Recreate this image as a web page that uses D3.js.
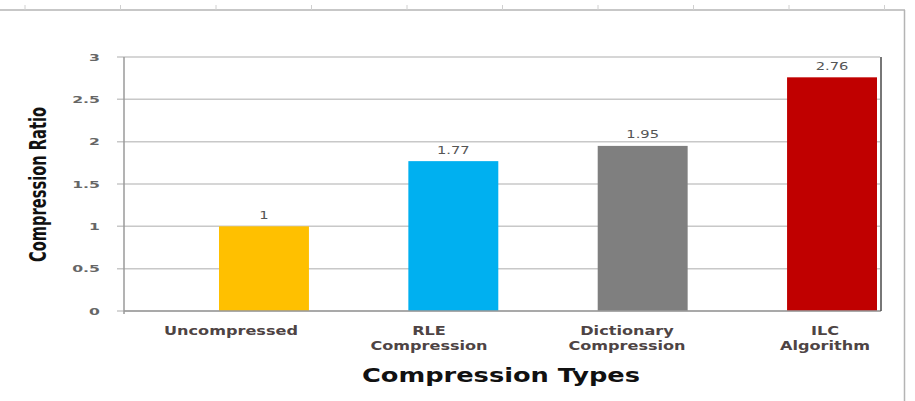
<!DOCTYPE html>
<html>
<head>
<meta charset="utf-8">
<script src="https://cdn.jsdelivr.net/npm/d3@7"></script>
<style>
  html, body { margin: 0; padding: 0; background: #fff; }
  svg { display: block; }
</style>
</head>
<body>
<svg id="chart" width="915" height="401"></svg>
<script>
// ---- data ----
const categories = ["Uncompressed", "RLE\nCompression", "Dictionary\nCompression", "ILC\nAlgorithm"];
const values = [1, 1.77, 1.95, 2.76];
const valueLabels = ["1", "1.77", "1.95", "2.76"];
const barColors = ["#FFC000", "#00B0F0", "#7F7F7F", "#C00000"];
const yTicks = [0, 0.5, 1, 1.5, 2, 2.5, 3];
const yTickLabels = ["0", "0.5", "1", "1.5", "2", "2.5", "3"];
const xTitle = "Compression Types";
const yTitle = "Compression Ratio";

const svg = d3.select("#chart");
const W = 915, H = 401;

// plot area
const plot = { left: 124, right: 880, top: 57, bottom: 311 };

const y = d3.scaleLinear().domain([0, 3]).range([plot.bottom, plot.top]);
const xBar = d3.scaleBand().domain(categories).range([219, 877]).paddingInner(0.525).paddingOuter(0);
const xLab = d3.scaleBand().domain(categories).range([132, 924]);

// outer spreadsheet frame
const frame = svg.append("g");
frame.append("line").attr("x1", 0).attr("x2", 905).attr("y1", 10).attr("y2", 10)
  .attr("stroke", "#b4b4b4").attr("stroke-width", 1.5);
frame.append("line").attr("x1", 904.5).attr("x2", 904.5).attr("y1", 10).attr("y2", H)
  .attr("stroke", "#b4b4b4").attr("stroke-width", 1.5);
const colScale = d3.scaleLinear().domain([0, 1]).range([25, 120.5]);
frame.selectAll("line.col").data(d3.range(10)).join("line")
  .attr("class", "col")
  .attr("x1", d => colScale(d)).attr("x2", d => colScale(d))
  .attr("y1", 5).attr("y2", 10)
  .attr("stroke", "#d0d0d0").attr("stroke-width", 1);

// gridlines
svg.append("g").selectAll("line").data(yTicks).join("line")
  .attr("x1", plot.left - 7).attr("x2", plot.right)
  .attr("y1", d => y(d)).attr("y2", d => y(d))
  .attr("stroke", "#c8c8c8").attr("stroke-width", 1.5);

// y axis
const yAxis = d3.axisLeft(y).tickValues(yTicks)
  .tickFormat((d, i) => yTickLabels[i]).tickSize(0).tickPadding(24);
const gy = svg.append("g").attr("transform", `translate(${plot.left},0)`).call(yAxis);
gy.select(".domain").remove();
gy.selectAll("text")
  .attr("font-family", "DejaVu Sans, Verdana, sans-serif")
  .attr("font-size", 9.5).attr("font-weight", "bold")
  .attr("fill", "#666666").attr("data-stretch", 1.65);

// bars
svg.append("g").selectAll("rect").data(values).join("rect")
  .attr("x", (d, i) => xBar(categories[i]))
  .attr("width", xBar.bandwidth())
  .attr("y", d => y(d))
  .attr("height", d => y(0) - y(d))
  .attr("fill", (d, i) => barColors[i]);

// axis lines
svg.append("line").attr("x1", plot.left).attr("x2", plot.left)
  .attr("y1", plot.top).attr("y2", plot.bottom + 3)
  .attr("stroke", "#9a9a9a").attr("stroke-width", 1.5);
svg.append("line").attr("x1", plot.left).attr("x2", plot.right + 1)
  .attr("y1", plot.bottom).attr("y2", plot.bottom)
  .attr("stroke", "#9a9a9a").attr("stroke-width", 1.5);
svg.append("line").attr("x1", plot.right + 1).attr("x2", plot.right + 1)
  .attr("y1", plot.top).attr("y2", plot.bottom)
  .attr("stroke", "#4a4a4a").attr("stroke-width", 1.5);

// value labels
svg.append("g").selectAll("text").data(values).join("text")
  .attr("x", (d, i) => xBar(categories[i]) + xBar.bandwidth() / 2)
  .attr("y", d => y(d) - 7.5)
  .attr("text-anchor", "middle")
  .attr("font-family", "DejaVu Sans, Verdana, sans-serif")
  .attr("font-size", 10.5)
  .attr("fill", "#555555")
  .attr("data-stretch", 1.4)
  .text((d, i) => valueLabels[i]);

// category labels
const catG = svg.append("g");
categories.forEach(c => {
  const lines = c.split("\n");
  const t = catG.append("g");
  lines.forEach((ln, j) => {
    t.append("text")
      .attr("x", xLab(c) + xLab.bandwidth() / 2)
      .attr("y", 335 + j * 14.5)
      .attr("text-anchor", "middle")
      .attr("font-family", "DejaVu Sans, Verdana, sans-serif")
      .attr("font-size", 11.5).attr("font-weight", "bold")
      .attr("fill", "#4e4444")
      .attr("data-stretch", 1.4)
      .text(ln);
  });
});

// axis titles
svg.append("text")
  .attr("x", 501).attr("y", 382)
  .attr("text-anchor", "middle")
  .attr("font-family", "DejaVu Sans, Verdana, sans-serif")
  .attr("font-size", 19).attr("font-weight", "bold")
  .attr("fill", "#111")
  .attr("textLength", 278).attr("lengthAdjust", "spacingAndGlyphs")
  .text(xTitle);

svg.append("text")
  .attr("transform", "translate(46,184.5) rotate(-90)")
  .attr("text-anchor", "middle")
  .attr("font-family", "'Liberation Sans Narrow', 'Arial Narrow', 'DejaVu Sans Condensed', sans-serif")
  .attr("font-size", 23.5).attr("font-weight", "bold")
  .attr("fill", "#111")
  .attr("textLength", 155).attr("lengthAdjust", "spacingAndGlyphs")
  .text(yTitle);

// horizontal stretch of text to match the reference's wide rendering
svg.selectAll("text[data-stretch]").each(function () {
  const f = +this.getAttribute("data-stretch");
  const len = this.getComputedTextLength();
  this.setAttribute("textLength", (len * f).toFixed(1));
  this.setAttribute("lengthAdjust", "spacingAndGlyphs");
});
</script>
</body>
</html>
